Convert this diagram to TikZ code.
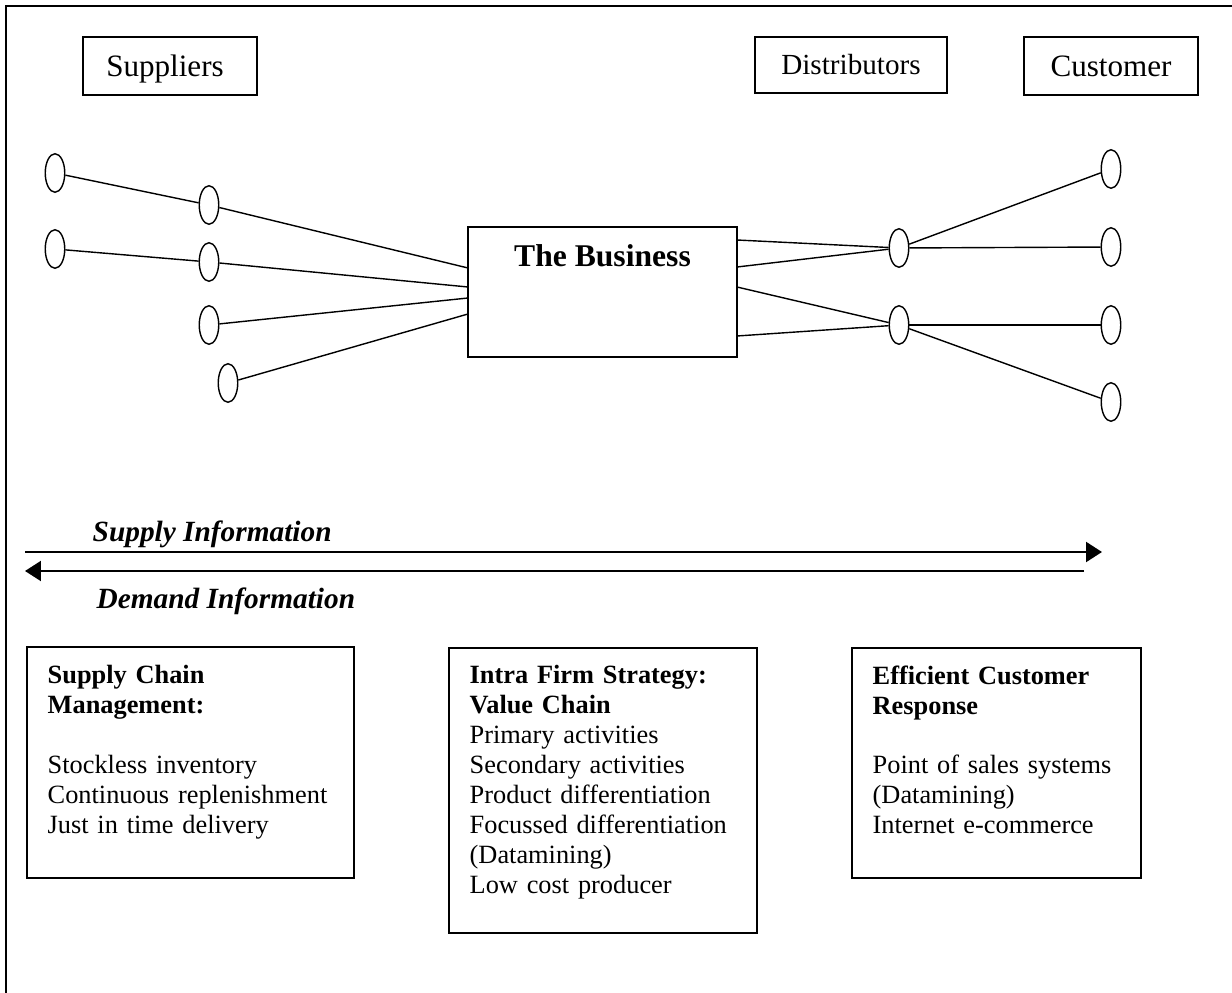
\documentclass[tikz,border=0pt]{standalone}
\usepackage{fontspec}
\setmainfont{Liberation Serif}
\usetikzlibrary{shapes.geometric,arrows.meta}

\begin{document}
\begin{tikzpicture}[x=0.02cm,y=-0.02cm,line width=0.8pt,
    tag/.style={draw,inner sep=0pt,text height=11.7pt,text depth=0pt,font=\fontsize{17.7}{20}\selectfont},
    oval/.style={draw,ellipse,inner sep=0pt,minimum width=0.39cm,minimum height=0.77cm},
    panel/.style={draw,line width=0.9pt,anchor=north west,inner sep=0pt},
    paneltext/.style={anchor=north west,inner sep=0pt,align=left,text width=6cm,font=\fontsize{15}{17}\selectfont},
    flow/.style={line width=1.2pt,-{Triangle[length=0.32cm,width=0.4cm]}},
    flowlabel/.style={anchor=base west,inner sep=0pt,font=\fontsize{16.7}{20}\selectfont\bfseries\itshape}]
    \useasboundingbox (0,0) rectangle (1232,993);
    % Frame, only top and left edges show
    \draw[line width=1.1pt] (1232,6) -- (6,6) -- (6,993);

    % Top labels
    \node[tag,minimum width=3.48cm,minimum height=1.16cm] (suppliers) at (170,66) {\hspace*{-0.2cm}Suppliers};
    \node[tag,minimum width=3.84cm,minimum height=1.12cm,text height=11pt,font=\fontsize{16.6}{20}\selectfont] (distributors) at (851,65) {Distributors};
    \node[tag,minimum width=3.48cm,minimum height=1.16cm] (customer) at (1111,66) {Customer};

    % The business box
    \node[draw,minimum width=5.38cm,minimum height=2.6cm] (biz) at (602.5,292) {};
    \node[font=\fontsize{18}{20}\selectfont\bfseries] (biztitle) at (602.5,256) {The Business};
    % where the lines meet the box
    \coordinate (bl1) at (468,268);
    \coordinate (bl2) at (468,287);
    \coordinate (bl3) at (468,298);
    \coordinate (bl4) at (468,314);
    \coordinate (br1) at (737,240);
    \coordinate (br2) at (737,267);
    \coordinate (br3) at (737,287);
    \coordinate (br4) at (737,336);

    % Supplier side
    \node[oval] (s1) at (55,173) {};
    \node[oval] (s2) at (55,249) {};
    \node[oval] (s3) at (209,205) {};
    \node[oval] (s4) at (209,262) {};
    \node[oval] (s5) at (209,325) {};
    \node[oval] (s6) at (228,383) {};
    \draw (s1) -- (s3);
    \draw (s2) -- (s4);
    \draw (s3) -- (bl1);
    \draw (s4) -- (bl2);
    \draw (s5) -- (bl3);
    \draw (s6) -- (bl4);

    % Distributor and customer side
    \node[oval] (d1) at (899,248) {};
    \node[oval] (d2) at (899,325) {};
    \node[oval] (c1) at (1111,169) {};
    \node[oval] (c2) at (1111,247) {};
    \node[oval] (c3) at (1111,325) {};
    \node[oval] (c4) at (1111,402) {};
    \draw (br1) -- (d1);
    \draw (br2) -- (d1);
    \draw (br3) -- (d2);
    \draw (br4) -- (d2);
    \draw (d1) -- (c1);
    \draw (d1) -- (c2);
    \draw (d2) -- (c3);
    \draw (d2) -- (c4);

    % Information flows
    \coordinate (supplyL) at (25,552);
    \coordinate (supplyR) at (1102,552);
    \coordinate (demandR) at (1084,571);
    \coordinate (demandL) at (25,571);
    \draw[flow] (supplyL) -- (supplyR);
    \draw[flow] (demandR) -- (demandL);
    \node[flowlabel] (supplylabel) at (92,541) {Supply Information};
    \node[flowlabel] (demandlabel) at (96,608) {Demand Information};

    % Bottom panels
    \node[panel,minimum width=6.54cm,minimum height=4.62cm] (scm) at (26,646) {};
    \node[paneltext] (scmtext) at (47,665) {\textbf{Supply Chain}\\ \textbf{Management:}\\[17pt]
        Stockless inventory\\ Continuous replenishment\\ Just in time delivery};

    \node[panel,minimum width=6.16cm,minimum height=5.7cm] (ifs) at (448,647) {};
    \node[paneltext] (ifstext) at (469,665) {\textbf{Intra Firm Strategy:}\\ \textbf{Value Chain}\\
        Primary activities\\ Secondary activities\\ Product differentiation\\
        Focussed differentiation\\ (Datamining)\\ Low cost producer};

    \node[panel,minimum width=5.78cm,minimum height=4.6cm] (ecr) at (851,647) {};
    \node[paneltext] (ecrtext) at (872,665) {\textbf{Efficient Customer}\\ \textbf{Response}\\[17pt]
        Point of sales systems\\ (Datamining)\\ Internet e-commerce};
\end{tikzpicture}
\end{document}
